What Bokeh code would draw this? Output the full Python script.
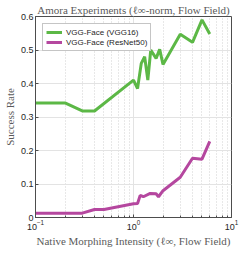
from bokeh.plotting import figure
from bokeh.models import Range1d, FixedTicker, CustomJSTickFormatter, LogTickFormatter
from bokeh.embed import file_html
from bokeh.resources import INLINE

# ---- data ----
vgg16_x = [0.1, 0.2, 0.3, 0.4, 1.0, 1.1, 1.2, 1.3, 1.4, 1.5, 1.7, 1.85, 2.0, 3.0, 4.0, 5.0, 6.0]
vgg16_y = [0.342, 0.342, 0.318, 0.318, 0.41, 0.385, 0.46, 0.48, 0.41, 0.50, 0.475, 0.502, 0.457, 0.547, 0.523, 0.59, 0.548]

resnet50_x = [0.1, 0.3, 0.4, 0.5, 1.0, 1.1, 1.17, 1.26, 1.48, 1.7, 1.8, 2.0, 3.0, 4.0, 5.0, 6.0]
resnet50_y = [0.013, 0.013, 0.024, 0.024, 0.041, 0.042, 0.066, 0.062, 0.072, 0.071, 0.062, 0.08, 0.12, 0.177, 0.174, 0.227]

series_names = ["VGG-Face (VGG16)", "VGG-Face (ResNet50)"]
y_ticks = [0, 0.1, 0.2, 0.3, 0.4, 0.5, 0.6]
x_major_ticks = [0.1, 1, 10]
x_minor_ticks = [0.2, 0.3, 0.4, 0.5, 0.6, 0.7, 0.8, 0.9, 2, 3, 4, 5, 6, 7, 8, 9]

title_text = "Amora Experiments (\u2113\u221e-norm, Flow Field)"
x_label = "Native Morphing Intensity (\u2113\u221e, Flow Field)"
y_label = "Success Rate"

GREEN = "#5cb846"
MAGENTA = "#b5479f"
AXIS = "#262626"
LABEL = "#5a5a5a"
SERIF = "Liberation Serif"
SANS = "Liberation Sans"

p = figure(width=241, height=249, x_axis_type="log",
           x_range=Range1d(0.1, 10), y_range=Range1d(0, 0.6),
           output_backend="svg", toolbar_location=None, title=title_text,
           min_border_left=0, min_border_right=10, min_border_top=0, min_border_bottom=0)

p.title.text_font = SERIF
p.title.text_font_size = "11px"
p.title.text_font_style = "normal"
p.title.align = "center"
p.title.text_color = LABEL
p.title.standoff = 2

p.line(vgg16_x, vgg16_y, line_color=GREEN, line_width=3, legend_label=series_names[0])
p.line(resnet50_x, resnet50_y, line_color=MAGENTA, line_width=3, legend_label=series_names[1])

xt = FixedTicker(ticks=x_major_ticks, minor_ticks=x_minor_ticks)
p.xaxis.ticker = xt
p.xgrid.ticker = xt
p.xaxis.formatter = LogTickFormatter()
p.yaxis.ticker = FixedTicker(ticks=y_ticks)
p.ygrid.ticker = FixedTicker(ticks=y_ticks)
p.yaxis.formatter = CustomJSTickFormatter(code="return tick.toFixed(1).replace(/\\.0$/, '');")

for ax in (p.xaxis[0], p.yaxis[0]):
    ax.axis_line_color = "#4d4d4d"
    ax.major_tick_line_color = "#4d4d4d"
    ax.minor_tick_line_color = "#4d4d4d"
    ax.major_tick_in = 3
    ax.major_tick_out = 0
    ax.minor_tick_in = 2
    ax.minor_tick_out = 0
    ax.major_label_text_font = SANS
    ax.major_label_text_font_size = "9px"
    ax.major_label_text_color = AXIS
    ax.major_label_standoff = 2
    ax.axis_label_text_font = SERIF
    ax.axis_label_text_font_size = "11px"
    ax.axis_label_text_font_style = "normal"
    ax.axis_label_text_color = LABEL
    ax.axis_label_standoff = 2

p.yaxis.minor_tick_line_color = None
p.xaxis.axis_label = x_label
p.yaxis.axis_label = y_label

p.outline_line_color = "#4d4d4d"
p.outline_line_width = 1

p.ygrid.grid_line_color = "#e3e3e3"
p.xgrid.grid_line_color = "#e3e3e3"
p.xgrid.minor_grid_line_color = "#d0d0d0"
p.xgrid.minor_grid_line_dash = "1 2"

lg = p.legend[0]
lg.location = "top_left"
lg.margin = 7
lg.padding = 3
lg.spacing = 0
lg.label_text_font = SANS
lg.label_text_font_size = "8px"
lg.label_text_color = AXIS
lg.label_height = 10
lg.glyph_height = 10
lg.glyph_width = 16
lg.label_standoff = 4
lg.border_line_color = "#8c8c8c"
lg.border_line_width = 1
lg.background_fill_alpha = 1

open("out.html", "w").write(file_html(p, INLINE))
